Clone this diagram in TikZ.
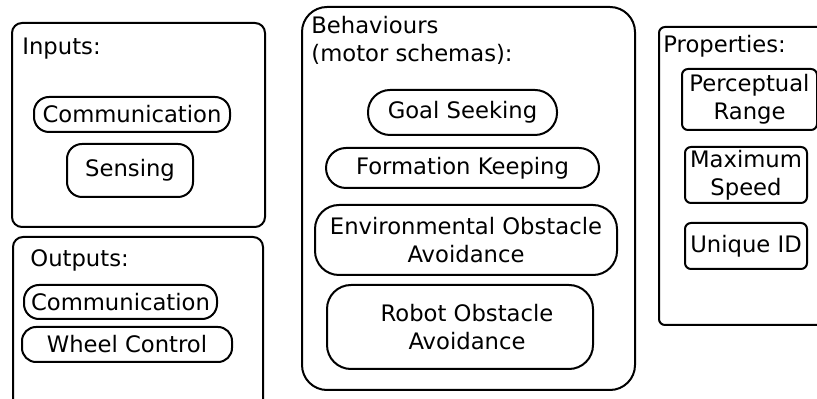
\documentclass[tikz,border=0pt]{standalone}
\usepackage{fontspec}
\setmainfont{DejaVu Sans}
\tikzset{
  group/.style={line width=1pt},
  item/.style={draw, line width=1pt, inner sep=0pt, align=center},
  title/.style={inner sep=0pt, align=left}
}
\begin{document}
\begin{tikzpicture}[x=0.5pt,y=-0.5pt]
        \fontsize{11.35}{14}\selectfont
        \clip (0,0) rectangle (817,399);

        % inputs
        \draw[group, rounded corners=5pt] (12,23) rectangle (265,227);
        \node[title, anchor=base west] (intitle) at (22,55) {Inputs:};
        \node[item, rounded corners=7.5pt, minimum width=98pt, minimum height=17.5pt] (incomm) at (132,114.5) {Communication};
        \node[item, rounded corners=7.5pt, minimum width=63pt, minimum height=26.5pt] (insense) at (130,170.5) {Sensing};

        % outputs
        \draw[group, rounded corners=5pt] (13,237) rectangle (263,430);
        \node[title, anchor=base west] (outtitle) at (30,267) {Outputs:};
        \node[item, rounded corners=7.5pt, minimum width=96.5pt, minimum height=17pt] (outcomm) at (120.5,302) {Communication};
        \node[item, rounded corners=7pt, minimum width=105pt, minimum height=17.5pt] (outwheel) at (127,344.5) {Wheel Control};

        % behaviours
        \draw[group, rounded corners=12.5pt] (302,7) rectangle (635,390);
        \node[title, anchor=north west] (behtitle) at (311,16) {Behaviours\\(motor schemas):};
        \node[item, rounded corners=11pt, minimum width=94.5pt, minimum height=22.5pt] (goal) at (462.5,112.5) {Goal Seeking};
        \node[item, rounded corners=10pt, minimum width=136.5pt, minimum height=20pt] (form) at (462.5,168) {Formation Keeping};
        \node[item, rounded corners=12pt, minimum width=151pt, minimum height=35pt] (envobst) at (466,240) {Environmental Obstacle\\Avoidance};
        \node[item, rounded corners=12pt, minimum width=133pt, minimum height=42pt] (robobst) at (460,327) {\hspace*{7pt}Robot Obstacle\\\hspace*{7pt}Avoidance};

        % properties
        \draw[group, rounded corners=3pt] (659,27) rectangle (850,325);
        \node[title, anchor=base west] (proptitle) at (663,53) {Properties:};
        \node[item, rounded corners=3pt, minimum width=67.5pt, minimum height=30.5pt] (range) at (749.5,99.5) {Perceptual\\Range};
        \node[item, rounded corners=3pt, minimum width=61pt, minimum height=28pt] (speed) at (746,175) {Maximum\\Speed};
        \node[item, rounded corners=3pt, minimum width=61pt, minimum height=23pt] (uid) at (746,246) {Unique ID};
\end{tikzpicture}
\end{document}
